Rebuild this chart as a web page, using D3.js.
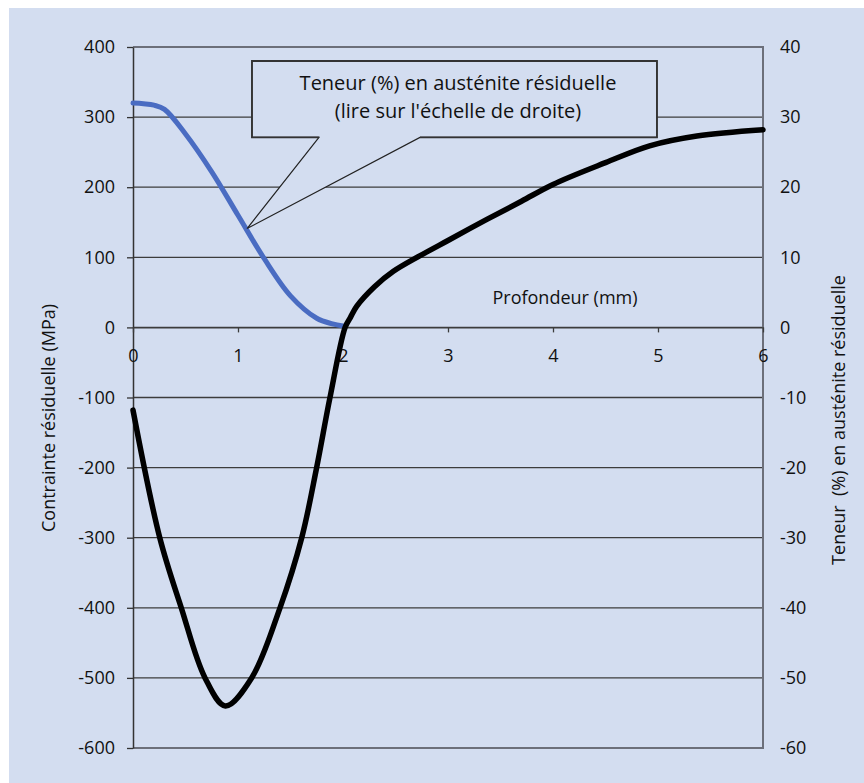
<!DOCTYPE html>
<html>
<head>
<meta charset="utf-8">
<script src="https://cdn.jsdelivr.net/npm/d3@7"></script>
<style>
	body { margin: 0; background: #fff; }
	svg { display: block; font-family: "Open Sans", sans-serif; }
</style>
</head>
<body>
<div id="chart"></div>
<script>
// residual stress profile (left scale, MPa)
var stressDepth = [0, 0.255, 0.46, 0.686, 0.88, 1.13, 1.4, 1.607, 1.749, 1.876, 2.02, 2.07, 2.13, 2.3, 2.48, 2.73, 3.0, 3.37, 3.7, 4.0, 4.5, 4.92, 5.37, 6.0];
var stressValues = [-118, -300, -400, -500, -540, -500, -400, -300, -200, -100, 0, 14, 30, 58, 80, 102, 124, 154, 180, 204, 235, 259, 273, 282];

// retained austenite content (right scale, %)
var austDepth = [0, 0.1, 0.2, 0.3, 0.5, 0.75, 1.0, 1.25, 1.5, 1.75, 1.9, 2.0];
var austValues = [32, 31.9, 31.7, 31.1, 27.6, 22.2, 16.0, 9.8, 4.5, 1.3, 0.5, 0.2];

var xTicks = [0, 1, 2, 3, 4, 5, 6];
var leftTicks = [-600, -500, -400, -300, -200, -100, 0, 100, 200, 300, 400];
var rightTicks = [-60, -50, -40, -30, -20, -10, 0, 10, 20, 30, 40];

var width = 864, height = 783;
var bg = "#d3ddf0";
var FONT = "'Open Sans', sans-serif";

var svg = d3.select("#chart").append("svg")
	.attr("width", width)
	.attr("height", height);

// panel background
svg.append("rect")
	.attr("x", 9).attr("y", 8)
	.attr("width", width - 9).attr("height", height - 8)
	.attr("fill", bg);

var x = d3.scaleLinear().domain([0, 6]).range([133, 763]);
var yL = d3.scaleLinear().domain([-600, 400]).range([748, 47]);
var yR = d3.scaleLinear().domain([-60, 40]).range([748, 47]);

// plain hyphen minus like the original
var fmt = function (d) { return String(d); };

// grid lines
svg.append("g").selectAll("line")
	.data(leftTicks.filter(function (d) { return d > -600 && d < 400; }))
	.enter().append("line")
	.attr("x1", x(0)).attr("x2", x(6))
	.attr("y1", function (d) { return yL(d); })
	.attr("y2", function (d) { return yL(d); })
	.attr("stroke", "#3c3c3c")
	.attr("stroke-width", 1.3);

// frame top / right / bottom
svg.append("path")
	.attr("d", "M" + x(0) + "," + yL(400) + "H" + x(6) + "V" + yL(-600) + "H" + x(0))
	.attr("fill", "none")
	.attr("stroke", "#6c6f7a")
	.attr("stroke-width", 2);

function styleAxis(g) {
	g.attr("font-family", null).attr("font-size", null);
	g.selectAll("text")
		.style("font-family", FONT)
		.style("font-size", "18px")
		.attr("fill", "#111");
}

// left axis
var leftAxis = svg.append("g")
	.attr("transform", "translate(" + x(0) + ",0)")
	.call(d3.axisLeft(yL).tickValues(leftTicks).tickFormat(fmt).tickSize(6).tickSizeOuter(0).tickPadding(12));
leftAxis.select(".domain").attr("stroke", "#333").attr("stroke-width", 1.5);
leftAxis.selectAll(".tick line").attr("stroke", "#333").attr("stroke-width", 1.3);
styleAxis(leftAxis);

// right axis
var rightAxis = svg.append("g")
	.attr("transform", "translate(" + x(6) + ",0)")
	.call(d3.axisRight(yR).tickValues(rightTicks).tickFormat(fmt).tickSize(0).tickPadding(17));
rightAxis.select(".domain").remove();
styleAxis(rightAxis);

// x axis on the zero line
var xAxis = svg.append("g")
	.attr("transform", "translate(0," + yL(0) + ")")
	.call(d3.axisBottom(x).tickValues(xTicks).tickFormat(fmt).tickSize(5).tickSizeOuter(0).tickPadding(17));
xAxis.select(".domain").attr("stroke", "#3c3c3c").attr("stroke-width", 1.3);
xAxis.selectAll(".tick line").attr("stroke", "#3c3c3c").attr("stroke-width", 1.3);
styleAxis(xAxis);

// axis titles
svg.append("text")
	.attr("transform", "translate(55,418) rotate(-90)")
	.attr("text-anchor", "middle")
	.style("font-family", FONT)
	.style("font-size", "18px")
	.attr("fill", "#111")
	.text("Contrainte résiduelle (MPa)");

svg.append("text")
	.attr("transform", "translate(845,420) rotate(-90)")
	.attr("text-anchor", "middle")
	.style("font-family", FONT)
	.style("font-size", "18px")
	.attr("fill", "#111")
	.text("Teneur\u00a0 (%) en austénite résiduelle");

svg.append("text")
	.attr("x", 565).attr("y", 304)
	.attr("text-anchor", "middle")
	.style("font-family", FONT)
	.style("font-size", "18px")
	.attr("fill", "#111")
	.text("Profondeur (mm)");

// curves
var stressLine = d3.line()
	.x(function (d) { return x(d[0]); })
	.y(function (d) { return yL(d[1]); })
	.curve(d3.curveCatmullRom.alpha(0.5));

var austLine = d3.line()
	.x(function (d) { return x(d[0]); })
	.y(function (d) { return yR(d[1]); })
	.curve(d3.curveCatmullRom.alpha(0.5));

svg.append("path")
	.datum(d3.zip(austDepth, austValues))
	.attr("d", austLine)
	.attr("fill", "none")
	.attr("stroke", "#4a6cc2")
	.attr("stroke-width", 5)
	.attr("stroke-linecap", "round");

svg.append("path")
	.datum(d3.zip(stressDepth, stressValues))
	.attr("d", stressLine)
	.attr("fill", "none")
	.attr("stroke", "#000")
	.attr("stroke-width", 5.5)
	.attr("stroke-linejoin", "round")
	.attr("stroke-linecap", "round");

// callout pointing at the austenite curve
var box = { x0: 1.133, x1: 4.99, top: 380, bottom: 271, baseA: 1.771, baseB: 2.733 };
var tip = [x(1.086), yR(14.1)];
var calloutPath = "M" + x(box.x0) + "," + yL(box.top) +
	"H" + x(box.x1) + "V" + yL(box.bottom) +
	"H" + x(box.baseB) + "L" + tip[0] + "," + tip[1] +
	"L" + x(box.baseA) + "," + yL(box.bottom) +
	"H" + x(box.x0) + "Z";

svg.append("path")
	.attr("d", calloutPath)
	.attr("fill", bg)
	.attr("stroke", "#222")
	.attr("stroke-width", 1.2);

// thicker border on the box itself
svg.append("path")
	.attr("d", "M" + x(box.baseA) + "," + yL(box.bottom) + "H" + x(box.x0) + "V" + yL(box.top) +
		"H" + x(box.x1) + "V" + yL(box.bottom) + "H" + x(box.baseB))
	.attr("fill", "none")
	.attr("stroke", "#333")
	.attr("stroke-width", 1.8);

var calloutText = svg.append("text")
	.attr("text-anchor", "middle")
	.style("font-family", FONT)
	.style("font-size", "20px")
	.attr("fill", "#111");
calloutText.append("tspan").attr("x", 458).attr("y", 90).text("Teneur (%) en austénite résiduelle");
calloutText.append("tspan").attr("x", 458).attr("y", 118).text("(lire sur l'échelle de droite)");
</script>
</body>
</html>
